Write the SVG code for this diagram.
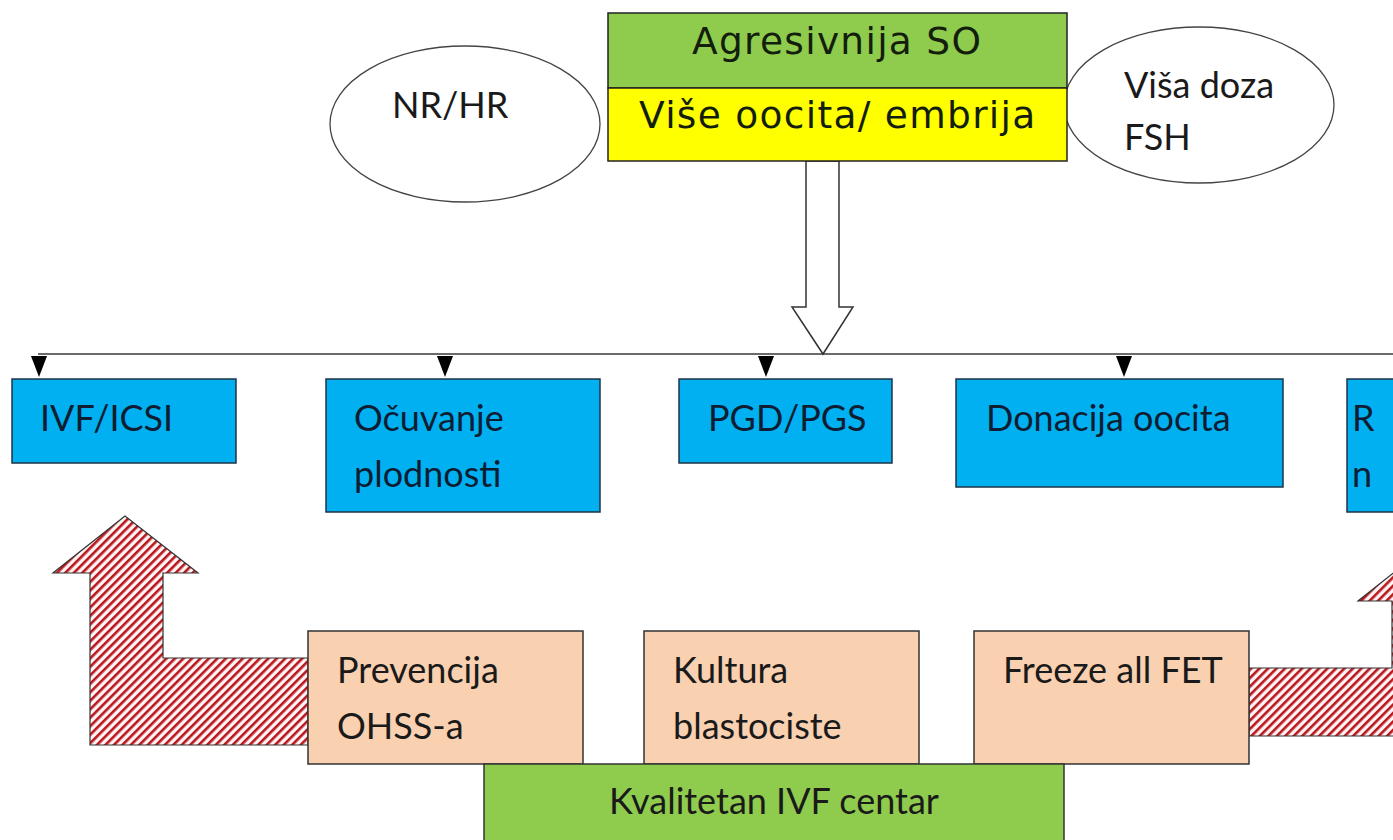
<svg xmlns="http://www.w3.org/2000/svg" width="1393" height="840" viewBox="0 0 1393 840">
<defs>
<style>
.t{font-family:Lato,"Open Sans","Liberation Sans",sans-serif;font-size:36px;fill:#1a1a1a}
.tb{fill:#0f1d33}
.top{font-family:"DejaVu Sans",Verdana,sans-serif;font-size:37.5px;letter-spacing:1.3px;fill:#141e0c}
.blue{fill:#00b0f0;stroke:#1f3347;stroke-width:1.5}
.peach{fill:#f9d0b0;stroke:#333;stroke-width:1.5}
.ell{fill:#fff;stroke:#444;stroke-width:1.3}
.hatch{fill:url(#hp);stroke:#333;stroke-width:1.2}
</style>
<pattern id="hp" patternUnits="userSpaceOnUse" width="6" height="6" patternTransform="rotate(45)">
<rect width="6" height="6" fill="#fff4f4"/>
<rect width="2.6" height="6" fill="#b8161c"/>
</pattern>
</defs>
<rect width="1393" height="840" fill="#fff"/>

<g id="connectors">
<path d="M38,354 H1393" stroke="#3a3a3a" stroke-width="1.5" fill="none"/>
<path d="M39,356 L31,356 L39,377 L47,356 Z" fill="#000"/>
<path d="M445,356 L437,356 L445,377 L453,356 Z" fill="#000"/>
<path d="M766,356 L758,356 L766,377 L774,356 Z" fill="#000"/>
<path d="M1124,356 L1116,356 L1124,377 L1132,356 Z" fill="#000"/>
<polygon points="806,161 839,161 839,307 853,307 823,354 792,307 806,307" fill="#fff" stroke="#333" stroke-width="1.5"/>
<polygon class="hatch" points="308,658 163,658 163,573 198,573 125,516 53,573 90,573 90,745 308,745"/>
<polygon class="hatch" points="1249,668 1392,668 1392,601 1358,601 1430,544 1502,601 1466,601 1466,736 1249,736"/>
</g>

<g id="node-nrhr">
<ellipse class="ell" cx="465" cy="124" rx="135" ry="78"/>
<text class="t" x="392" y="118">NR/HR</text>
</g>

<g id="node-fsh">
<ellipse class="ell" cx="1199" cy="105" rx="135" ry="78"/>
<text class="t" x="1124" y="98">Viša doza</text>
<text class="t" x="1124" y="150">FSH</text>
</g>

<g id="node-top">
<rect x="608" y="13" width="459" height="75" fill="#8fcc4e" stroke="#222" stroke-width="1.5"/>
<rect x="608" y="88" width="459" height="73" fill="#ffff00" stroke="#222" stroke-width="1.5"/>
<text class="top" x="692" y="54">Agresivnija SO</text>
<text class="top" x="639" y="128">Više oocita/ embrija</text>
</g>

<g id="node-ivf">
<rect class="blue" x="12" y="379" width="224" height="84"/>
<text class="t tb" x="40" y="431">IVF/ICSI</text>
</g>

<g id="node-ocuvanje">
<rect class="blue" x="326" y="379" width="274" height="133"/>
<text class="t tb" x="354" y="431">Očuvanje</text>
<text class="t tb" x="354" y="487">plodnosti</text>
</g>

<g id="node-pgd">
<rect class="blue" x="679" y="379" width="213" height="84"/>
<text class="t tb" x="708" y="431">PGD/PGS</text>
</g>

<g id="node-donacija">
<rect class="blue" x="956" y="379" width="327" height="108"/>
<text class="t tb" x="986" y="431">Donacija oocita</text>
</g>

<g id="node-r">
<rect class="blue" x="1347" y="379" width="80" height="133"/>
<text class="t tb" x="1352" y="431">R</text>
<text class="t tb" x="1352" y="487">n</text>
</g>

<g id="node-prevencija">
<rect class="peach" x="308" y="631" width="275" height="133"/>
<text class="t" x="337" y="683">Prevencija</text>
<text class="t" x="337" y="739">OHSS-a</text>
</g>

<g id="node-kultura">
<rect class="peach" x="644" y="631" width="275" height="133"/>
<text class="t" x="673" y="683">Kultura</text>
<text class="t" x="673" y="739">blastociste</text>
</g>

<g id="node-freeze">
<rect class="peach" x="974" y="631" width="275" height="133"/>
<text class="t" x="1003" y="683">Freeze all FET</text>
</g>

<g id="node-kvalitetan">
<rect x="484" y="764" width="580" height="90" fill="#8fcc4e" stroke="#333" stroke-width="1.5"/>
<text class="t" x="774" y="814" text-anchor="middle" fill="#16240c">Kvalitetan IVF centar</text>
</g>
</svg>
